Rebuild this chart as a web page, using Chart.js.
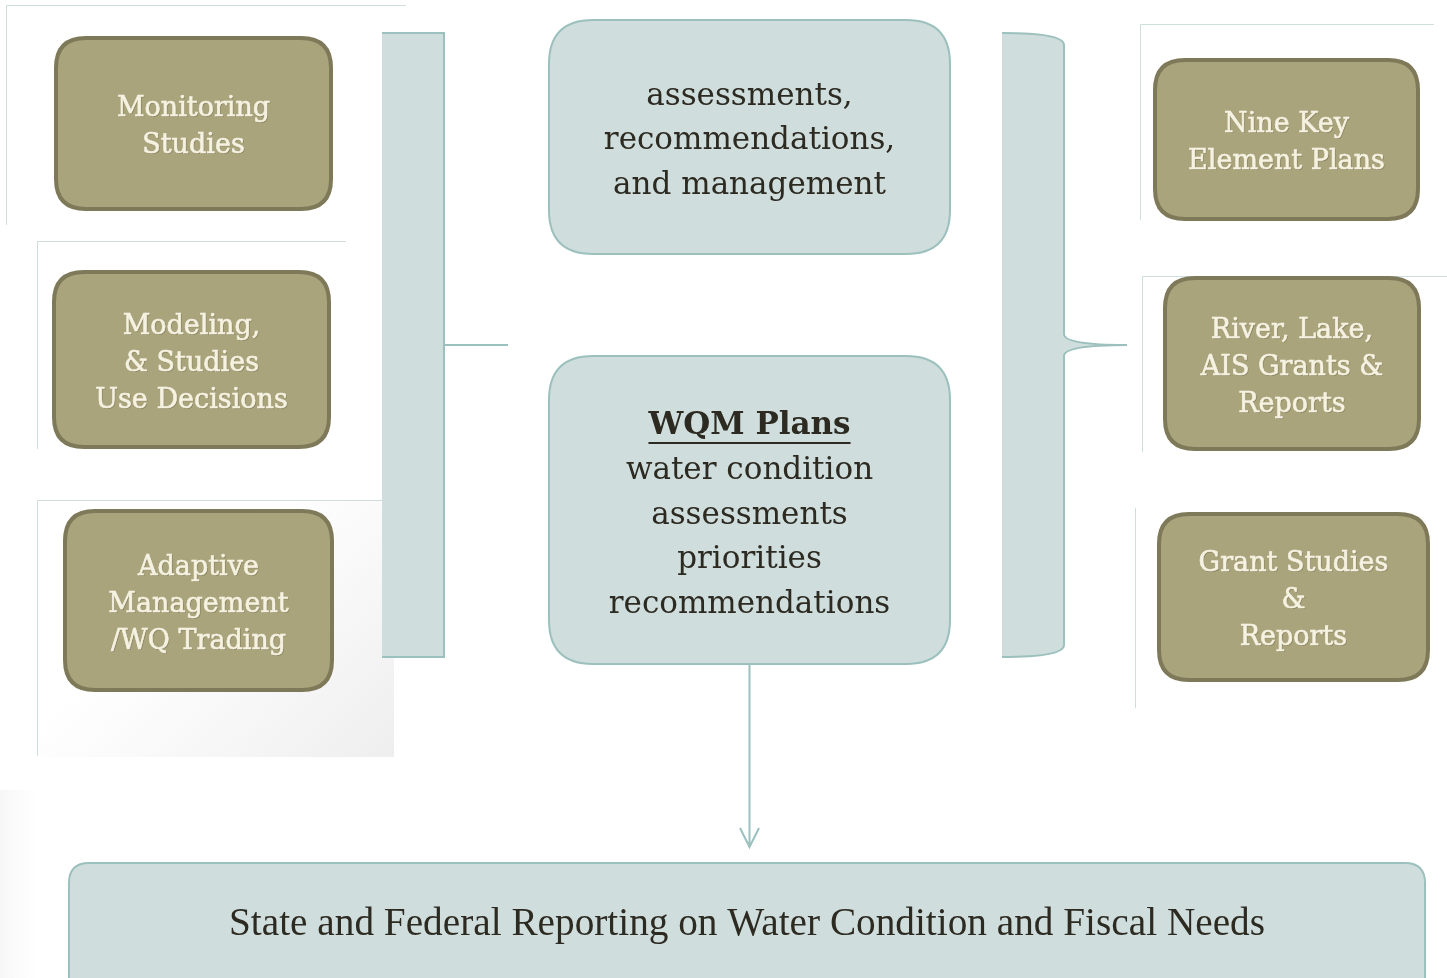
<!DOCTYPE html>
<html>
<head>
<meta charset="utf-8">
<script src="https://cdn.jsdelivr.net/npm/chart.js@4.4.1/dist/chart.umd.min.js"></script>
<style>
  html, body { margin: 0; padding: 0; background: #ffffff; }
  #wrap { width: 1447px; height: 978px; position: relative; }
</style>
</head>
<body>
<div id="wrap"><canvas id="flowCanvas"></canvas></div>
<script>
// text content of the diagram
const sourceLabels = [
    ["Monitoring", "Studies"],
    ["Modeling,", "& Studies", "Use Decisions"],
    ["Adaptive", "Management", "/WQ Trading"],
];
const outputLabels = [
    ["Nine Key", "Element Plans"],
    ["River, Lake,", "AIS Grants &", "Reports"],
    ["Grant Studies", "&", "Reports"],
];
const centerTopLabel = ["assessments,", "recommendations,", "and management"];
const planTitle = "WQM Plans";
const planLabel = ["water condition", "assessments", "priorities", "recommendations"];
const reportLabel = "State and Federal Reporting on Water Condition and Fiscal Needs";

// layout, in axis units (x: 0..1447, y: 0..978 from top)
const sourceBoxes = [
    { x0: 56, y0: 38, x1: 331, y1: 209 },
    { x0: 54, y0: 272, x1: 329, y1: 447 },
    { x0: 65, y0: 511, x1: 332, y1: 690 },
];
const outputBoxes = [
    { x0: 1155, y0: 60, x1: 1418, y1: 219 },
    { x0: 1165, y0: 278, x1: 1419, y1: 449 },
    { x0: 1159, y0: 514, x1: 1428, y1: 680 },
];
const frames = [
    { x: 6, y: 5, w: 400, h: 220, top: true },
    { x: 37, y: 241, w: 309, h: 208, top: true },
    { x: 37, y: 500, w: 345, h: 256, top: true },
    { x: 1140, y: 24, w: 294, h: 196, top: true },
    { x: 1142, y: 276, w: 305, h: 176, top: true },
    { x: 1135, y: 508, w: 0, h: 200, top: false },
];
const centerTop = { x0: 549, y0: 20, x1: 950, y1: 254 };
const centerPlan = { x0: 549, y0: 356, x1: 950, y1: 664 };
const reportBox = { x0: 69, y0: 863, x1: 1425, y1: 1010 };

const OLIVE = "#a9a47b";
const OLIVE_EDGE = "#7e7959";
const TEAL = "#cfdedd";
const TEAL_EDGE = "#9cc0bd";
const FRAME = "#cddedd";
const INK = "#2d2a22";

function roundRect(ctx, x0, y0, x1, y1, r) {
    ctx.beginPath();
    ctx.moveTo(x0 + r, y0);
    ctx.lineTo(x1 - r, y0);
    ctx.quadraticCurveTo(x1, y0, x1, y0 + r);
    ctx.lineTo(x1, y1 - r);
    ctx.quadraticCurveTo(x1, y1, x1 - r, y1);
    ctx.lineTo(x0 + r, y1);
    ctx.quadraticCurveTo(x0, y1, x0, y1 - r);
    ctx.lineTo(x0, y0 + r);
    ctx.quadraticCurveTo(x0, y0, x0 + r, y0);
    ctx.closePath();
}

const diagramPlugin = {
    id: "diagram",
    afterDatasetsDraw(chart) {
        const ctx = chart.ctx;
        const sx = chart.scales.x, sy = chart.scales.y;
        const X = (v) => sx.getPixelForValue(v);
        const Y = (v) => sy.getPixelForValue(v);
        ctx.save();

        // faint shadow frames behind the olive boxes
        ctx.strokeStyle = FRAME;
        ctx.lineWidth = 1;
        frames.forEach((f) => {
            ctx.beginPath();
            if (f.top) {
                ctx.moveTo(X(f.x + f.w), Y(f.y) + 0.5);
                ctx.lineTo(X(f.x) + 0.5, Y(f.y) + 0.5);
            } else {
                ctx.moveTo(X(f.x) + 0.5, Y(f.y));
            }
            ctx.lineTo(X(f.x) + 0.5, Y(f.y + f.h));
            ctx.stroke();
        });
        // soft grey wash under the third source frame
        let g = ctx.createLinearGradient(X(200), Y(560), X(394), Y(757));
        g.addColorStop(0, "rgba(240,240,240,0)");
        g.addColorStop(1, "rgba(238,238,238,1)");
        ctx.fillStyle = g;
        ctx.fillRect(X(38), Y(501), X(394) - X(38), Y(757) - Y(501));
        // faint shading at bottom-left corner
        g = ctx.createLinearGradient(X(0), 0, X(50), 0);
        g.addColorStop(0, "rgba(236,236,236,0.45)");
        g.addColorStop(1, "rgba(255,255,255,0)");
        ctx.fillStyle = g;
        ctx.fillRect(X(0), Y(790), X(50) - X(0), Y(978) - Y(790));

        // left bracket
        ctx.fillStyle = TEAL;
        ctx.fillRect(X(382), Y(33), X(444) - X(382), Y(657) - Y(33));
        ctx.strokeStyle = TEAL_EDGE;
        ctx.lineWidth = 2;
        ctx.beginPath();
        ctx.moveTo(X(382), Y(33));
        ctx.lineTo(X(444), Y(33));
        ctx.lineTo(X(444), Y(657));
        ctx.lineTo(X(382), Y(657));
        ctx.moveTo(X(444), Y(345));
        ctx.lineTo(X(508), Y(345));
        ctx.stroke();

        // right curly brace
        const bracePath = () => {
            ctx.beginPath();
            ctx.moveTo(X(1002), Y(33));
            ctx.quadraticCurveTo(X(1064), Y(33), X(1064), Y(45));
            ctx.lineTo(X(1064), Y(334));
            ctx.quadraticCurveTo(X(1064), Y(345), X(1127), Y(345));
            ctx.quadraticCurveTo(X(1064), Y(345), X(1064), Y(356));
            ctx.lineTo(X(1064), Y(645));
            ctx.quadraticCurveTo(X(1064), Y(657), X(1002), Y(657));
        };
        bracePath();
        ctx.closePath();
        ctx.fillStyle = TEAL;
        ctx.fill();
        bracePath();
        ctx.stroke();

        // olive boxes
        const drawOlive = (b, lines) => {
            roundRect(ctx, X(b.x0), Y(b.y0), X(b.x1), Y(b.y1), 30);
            ctx.fillStyle = OLIVE;
            ctx.fill();
            ctx.lineWidth = 4;
            ctx.strokeStyle = OLIVE_EDGE;
            ctx.stroke();
            ctx.font = "27px 'DejaVu Serif'";
            ctx.textAlign = "center";
            ctx.textBaseline = "middle";
            const cx = (X(b.x0) + X(b.x1)) / 2;
            const cy = (Y(b.y0) + Y(b.y1)) / 2 + 4;
            const lh = 37;
            lines.forEach((t, i) => {
                const ty = cy + (i - (lines.length - 1) / 2) * lh;
                ctx.fillStyle = "rgba(90,80,50,0.35)";
                ctx.fillText(t, cx + 1, ty + 1);
                ctx.fillStyle = "#f6f2e2";
                ctx.strokeStyle = "#f6f2e2";
                ctx.lineWidth = 0.6;
                ctx.fillText(t, cx, ty);
                ctx.strokeText(t, cx, ty);
            });
        };
        sourceBoxes.forEach((b, i) => drawOlive(b, sourceLabels[i]));
        outputBoxes.forEach((b, i) => drawOlive(b, outputLabels[i]));

        // teal centre boxes
        const drawTeal = (b, r) => {
            roundRect(ctx, X(b.x0), Y(b.y0), X(b.x1), Y(b.y1), r);
            ctx.fillStyle = TEAL;
            ctx.fill();
            ctx.lineWidth = 2;
            ctx.strokeStyle = TEAL_EDGE;
            ctx.stroke();
        };
        drawTeal(centerTop, 44);
        drawTeal(centerPlan, 44);

        ctx.fillStyle = INK;
        ctx.textAlign = "center";
        ctx.textBaseline = "middle";
        ctx.font = "31px 'DejaVu Serif'";
        const ccx = (X(centerTop.x0) + X(centerTop.x1)) / 2;
        centerTopLabel.forEach((t, i) => {
            ctx.fillText(t, ccx, Y(141) + (i - 1) * 44.5);
        });

        ctx.font = "bold 31px 'DejaVu Serif'";
        const ty = Y(426);
        ctx.fillText(planTitle, ccx, ty);
        const tw = ctx.measureText(planTitle).width;
        ctx.fillRect(ccx - tw / 2, ty + 16, tw, 2);
        ctx.font = "31px 'DejaVu Serif'";
        planLabel.forEach((t, i) => {
            ctx.fillText(t, ccx, Y(471) + i * 44.7);
        });

        // arrow down to the report box
        ctx.strokeStyle = TEAL_EDGE;
        ctx.lineWidth = 2;
        ctx.beginPath();
        ctx.moveTo(X(749.5), Y(664));
        ctx.lineTo(X(749.5), Y(847));
        ctx.moveTo(X(740), Y(828));
        ctx.lineTo(X(749.5), Y(847));
        ctx.lineTo(X(759), Y(828));
        ctx.stroke();

        // report box
        drawTeal(reportBox, 20);
        ctx.fillStyle = INK;
        ctx.font = "36px 'Liberation Serif'";
        const rw = ctx.measureText(reportLabel).width;
        const scale = (X(1265) - X(229)) / rw;
        ctx.save();
        ctx.translate((X(229) + X(1265)) / 2, Y(925));
        ctx.scale(scale, 1.1);
        ctx.fillText(reportLabel, 0, 0);
        ctx.restore();

        ctx.restore();
    },
};

// invisible anchor points at each box centre, placed through the scales
const anchors = [...sourceBoxes, ...outputBoxes, centerTop, centerPlan].map((b) => ({
    x: (b.x0 + b.x1) / 2,
    y: (b.y0 + b.y1) / 2,
}));

new Chart(document.getElementById("flowCanvas"), {
    type: "scatter",
    data: {
        datasets: [{ data: anchors, pointRadius: 0, pointHoverRadius: 0 }],
    },
    options: {
        responsive: true,
        maintainAspectRatio: false,
        animation: false,
        layout: { padding: 0 },
        events: [],
        scales: {
            x: { display: false, type: "linear", min: 0, max: 1447 },
            y: { display: false, type: "linear", min: 0, max: 978, reverse: true },
        },
        plugins: {
            legend: { display: false },
            tooltip: { enabled: false },
        },
    },
    plugins: [diagramPlugin],
});
</script>
</body>
</html>
